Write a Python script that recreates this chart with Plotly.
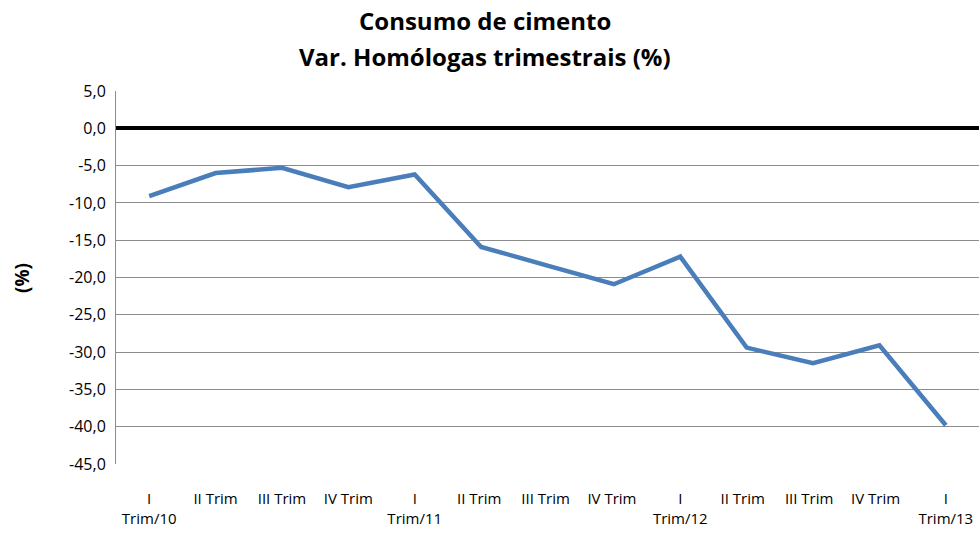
import plotly.graph_objects as go

categories = ["I<br>Trim/10", "II Trim", "III Trim", "IV Trim",
              "I<br>Trim/11", "II Trim ", "III Trim ", "IV Trim ",
              "I<br>Trim/12", "II Trim  ", "III Trim  ", "IV Trim  ",
              "I<br>Trim/13"]
values = [-9.1, -6.0, -5.3, -7.9, -6.2, -15.9, -18.4, -20.9, -17.2, -29.4, -31.5, -29.1, -39.8]
y_ticks = [5, 0, -5, -10, -15, -20, -25, -30, -35, -40, -45]
y_tick_text = [f"{v:.1f}".replace(".", ",") for v in y_ticks]
title_lines = ["Consumo de cimento", "Var. Homólogas trimestrais (%)"]

font_family = "Open Sans"
W, H = 979, 535
ML, MR, MT, MB = 116, 0, 91, 71

fig = go.Figure()
fig.add_trace(go.Scatter(
    x=categories, y=values, mode="lines",
    line=dict(color="#4A7EBB", width=4.5),
    showlegend=False, hoverinfo="skip",
))

plot_h = H - MT - MB
plot_w = W - ML - MR
annotations = []
for text, py in zip(title_lines, [20, 57]):
    annotations.append(dict(
        text="<b>" + text + "</b>",
        x=(485 - ML) / plot_w, y=(H - MB - py) / plot_h,
        xref="paper", yref="paper", xanchor="center", yanchor="middle",
        showarrow=False, font=dict(size=24, family=font_family, color="#000000"),
    ))
annotations.append(dict(
    text="<b>(%)</b>", textangle=-90,
    x=(22 - ML) / plot_w, y=(H - MB - 278) / plot_h,
    xref="paper", yref="paper", xanchor="center", yanchor="middle",
    showarrow=False, font=dict(size=19, family=font_family, color="#000000"),
))

fig.update_layout(
    width=W, height=H,
    margin=dict(l=ML, r=MR, t=MT, b=MB),
    paper_bgcolor="white", plot_bgcolor="white",
    font=dict(family=font_family, color="#000000"),
    xaxis=dict(
        type="category", automargin=False,
        showgrid=False, zeroline=False, showline=False,
        ticks="", tickangle=0,
        tickfont=dict(size=15, family=font_family, color="#000000"),
        ticklabelstandoff=24,
        range=[-0.5, 12.5],
    ),
    yaxis=dict(
        automargin=False,
        range=[-45, 5], tickvals=y_ticks, ticktext=y_tick_text,
        showgrid=True, gridcolor="#8C8C8C", gridwidth=1,
        zeroline=True, zerolinecolor="#000000", zerolinewidth=3.5,
        showline=True, linecolor="#8C8C8C", linewidth=1,
        ticks="", tickfont=dict(size=16, family=font_family, color="#000000"),
        ticklabelstandoff=6,
    ),
    annotations=annotations,
)

fig.write_html("out.html", config={"displayModeBar": False},
               post_script="document.body.style.margin='0';document.body.style.overflow='hidden';")
